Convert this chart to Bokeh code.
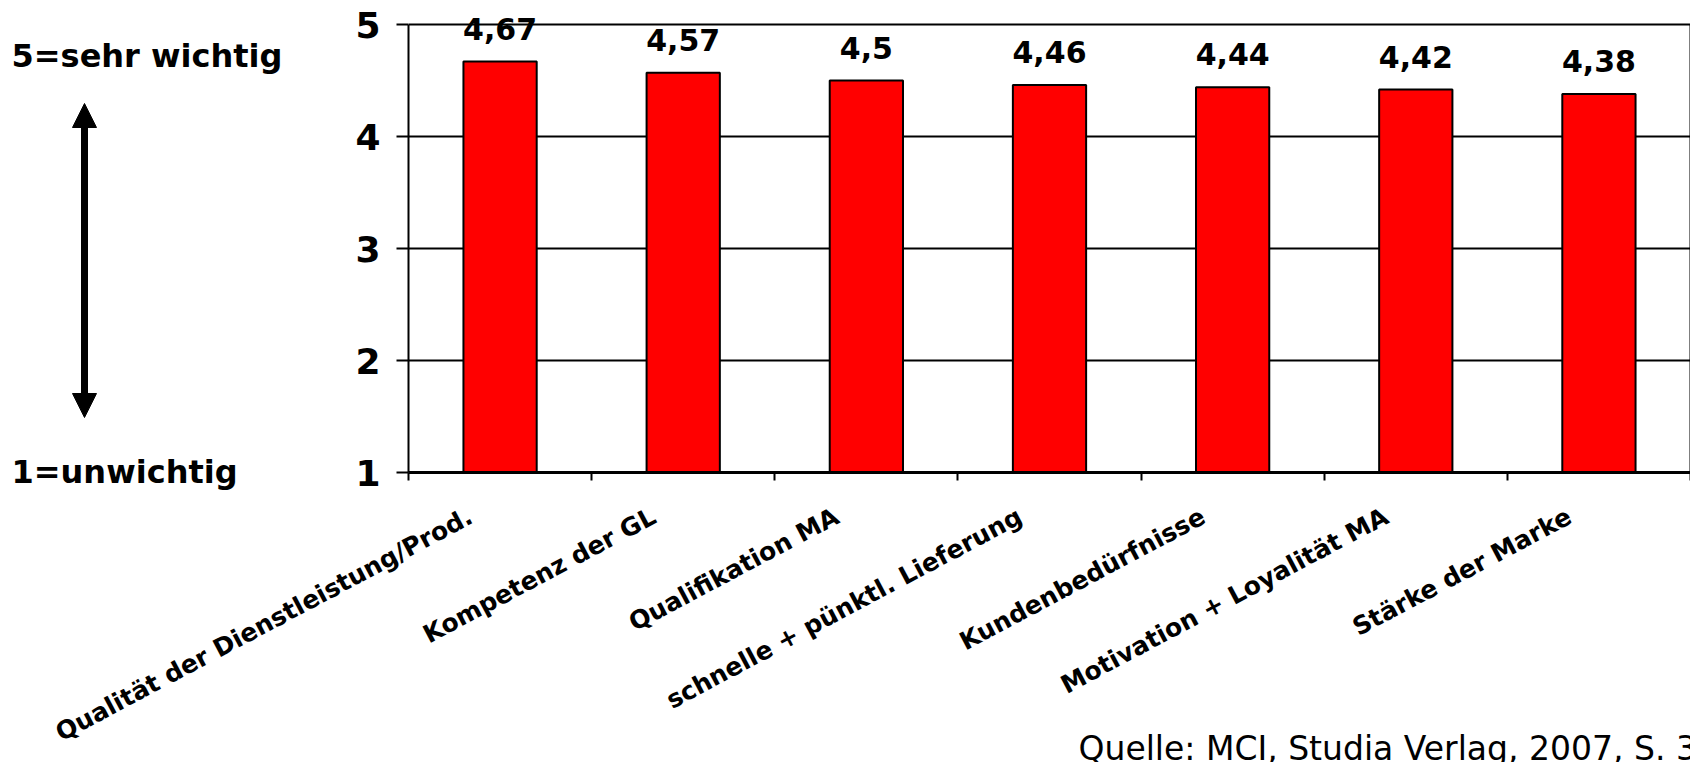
from math import radians

from bokeh.core.properties import value
from bokeh.embed import file_html
from bokeh.layouts import column
from bokeh.models import (Arrow, ColumnDataSource, FixedTicker, GridBox, Label,
                          LabelSet, LinearAxis, NormalHead, Range1d)
from bokeh.plotting import figure
from bokeh.resources import INLINE

# Wichtigkeit der Erfolgsfaktoren (1 = unwichtig, 5 = sehr wichtig)
categories = [
    "Qualität der Dienstleistung/Prod.",
    "Kompetenz der GL",
    "Qualifikation MA",
    "schnelle + pünktl. Lieferung",
    "Kundenbedürfnisse",
    "Motivation + Loyalität MA",
    "Stärke der Marke",
]
scores = [4.67, 4.57, 4.5, 4.46, 4.44, 4.42, 4.38]
y_ticks = [1, 2, 3, 4, 5]
scale_top = "5=sehr wichtig"
scale_bottom = "1=unwichtig"
source_note = "Quelle: MCI, Studia Verlag, 2007, S. 3"

FONT = "DejaVu Sans"
W, H = 1690, 762

n = len(categories)
centers = [i + 0.5 for i in range(n)]
src = ColumnDataSource(dict(
    x=centers,
    top=scores,
    base=[y_ticks[0]] * n,
    label=[str(v).replace(".", ",") for v in scores],
))

# ---- main bar chart -------------------------------------------------------
p = figure(
    width=W, height=H,
    x_range=Range1d(0, n),
    # a little head room above 5 so the top value label is not cut
    y_range=Range1d(y_ticks[0], y_ticks[-1] + 0.09),
    output_backend="svg", toolbar_location=None,
    min_border_left=408, min_border_right=0,
    min_border_top=14, min_border_bottom=290,
)
p.background_fill_color = "white"
p.border_fill_color = "white"
p.outline_line_color = None

# horizontal grid lines (the one at 5 closes the chart at the top)
p.xgrid.grid_line_color = None
p.ygrid.ticker = FixedTicker(ticks=y_ticks)
p.ygrid.grid_line_color = "black"
p.ygrid.grid_line_width = 2
p.ygrid.grid_line_alpha = 1.0

# y axis: bold numbers with outward ticks
p.yaxis.ticker = FixedTicker(ticks=y_ticks)
p.yaxis.bounds = (y_ticks[0], y_ticks[-1])
p.yaxis.axis_line_color = "black"
p.yaxis.axis_line_width = 2
p.yaxis.major_tick_line_width = 2
p.yaxis.major_tick_in = 0
p.yaxis.major_tick_out = 12
p.yaxis.minor_tick_line_color = None
p.yaxis.major_label_text_font = FONT
p.yaxis.major_label_text_font_style = "bold"
p.yaxis.major_label_text_font_size = "36px"
p.yaxis.major_label_text_color = "black"
p.yaxis.major_label_standoff = 16

# right border line of the chart
right = LinearAxis(
    ticker=FixedTicker(ticks=[]), bounds=(y_ticks[0], y_ticks[-1]),
    axis_line_color="black", axis_line_width=2,
    major_tick_line_color=None, minor_tick_line_color=None,
    major_tick_out=0, major_tick_in=0, major_label_standoff=0,
    major_label_text_font_size="0px",
)
p.add_layout(right, "right")

# x axis: slanted names under the bars (ending a bit left of each bar's
# centre), short marks between the categories
label_shift = 0.16
label_ticks = [c - label_shift for c in centers]
p.xaxis.ticker = FixedTicker(ticks=label_ticks, minor_ticks=list(range(n + 1)))
p.xaxis.major_label_overrides = {t: name for t, name in zip(label_ticks, categories)}
p.xaxis.major_label_orientation = radians(28)
p.xaxis.major_label_text_font = FONT
p.xaxis.major_label_text_font_style = "bold"
p.xaxis.major_label_text_font_size = "25px"
p.xaxis.major_label_text_color = "black"
p.xaxis.major_label_standoff = 34
p.xaxis.axis_line_color = "black"
p.xaxis.axis_line_width = 3
p.xaxis.major_tick_line_color = None
p.xaxis.major_tick_in = 0
p.xaxis.major_tick_out = 0
p.xaxis.minor_tick_line_color = "black"
p.xaxis.minor_tick_line_width = 2
p.xaxis.minor_tick_in = 0
p.xaxis.minor_tick_out = 8

# bars
p.vbar(x="x", top="top", bottom="base", width=0.4, source=src,
       fill_color="#FF0000", line_color="black", line_width=2)

# value labels above the bars
p.add_layout(LabelSet(
    x="x", y="top", text="label", source=src,
    y_offset=22, text_align="center", text_baseline="alphabetic",
    text_font=value(FONT), text_font_style="bold", text_font_size="30px",
    text_color="black",
))

# ---- page layer: scale explanation and source note (pixel coordinates) ----
page = figure(
    width=W, height=H,
    x_range=Range1d(0, W), y_range=Range1d(H, 0),
    output_backend="svg", toolbar_location=None,
    x_axis_location=None, y_axis_location=None,
    min_border=0,
)
page.grid.visible = False
page.outline_line_color = None
page.background_fill_color = None
page.border_fill_color = None

for txt, y in ((scale_top, 55), (scale_bottom, 471)):
    page.add_layout(Label(
        x=11, y=y, text=txt,
        text_align="left", text_baseline="alphabetic",
        text_font=FONT, text_font_style="bold", text_font_size="32px",
        text_color="black",
    ))

page.add_layout(Arrow(
    x_start=84, y_start=417, x_end=84, y_end=103,
    line_color="black", line_width=7,
    start=NormalHead(size=24, fill_color="black", line_color="black"),
    end=NormalHead(size=24, fill_color="black", line_color="black"),
))

page.add_layout(Label(
    x=1078, y=748, text=source_note,
    text_align="left", text_baseline="alphabetic",
    text_font=FONT, text_font_size="33px", text_color="black",
))

layout = GridBox(children=[(p, 0, 0), (column(page), 0, 0)])

open("out.html", "w").write(file_html(layout, INLINE))
